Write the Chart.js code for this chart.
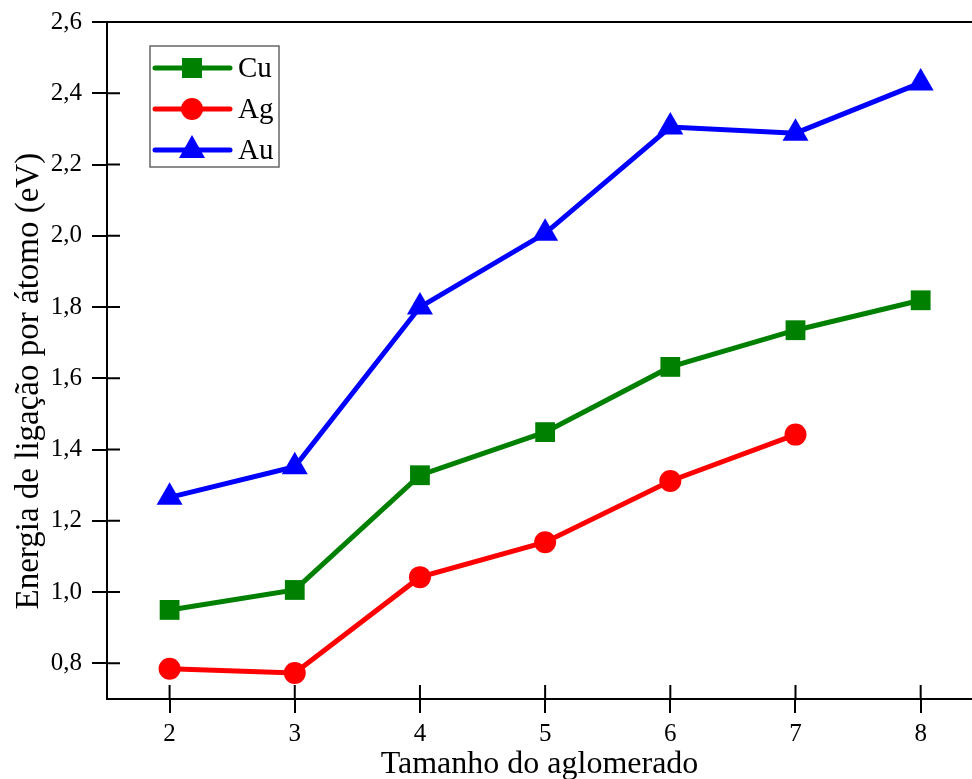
<!DOCTYPE html>
<html>
<head>
<meta charset="utf-8">
<script src="https://cdn.jsdelivr.net/npm/chart.js@4/dist/chart.umd.min.js"></script>
<style>
  html, body { margin: 0; padding: 0; background: #fff; overflow: hidden; }
</style>
</head>
<body>
<canvas id="chart" width="987" height="779"></canvas>
<script>
// Cluster sizes and binding energy per atom (eV)
const sizes = [2, 3, 4, 5, 6, 7, 8]
const cuValues = [0.950, 1.006, 1.328, 1.449, 1.632, 1.735, 1.819]
const agValues = [0.785, 0.773, 1.042, 1.140, 1.312, 1.442]
const auValues = [1.266, 1.352, 1.800, 2.007, 2.305, 2.288, 2.429]

const seriesNames = ['Cu', 'Ag', 'Au']
const yTicks = [0.8, 1.0, 1.2, 1.4, 1.6, 1.8, 2.0, 2.2, 2.4, 2.6]
const xTicks = [2, 3, 4, 5, 6, 7, 8]

Chart.defaults.font.family = "'Liberation Serif', 'DejaVu Serif', serif"
Chart.defaults.color = '#000'

let toPoints = function(values) {
  return values.map((v, i) => ({ x: sizes[i], y: v }))
}

// Top frame line and the inner half of the tick marks
let framePlugin = {
  id: 'frame',
  beforeDatasetsDraw(chart) {
    let ctx = chart.ctx
    let area = chart.chartArea
    ctx.save()
    ctx.strokeStyle = '#000'
    ctx.lineWidth = 2
    ctx.beginPath()
    ctx.moveTo(area.left, area.top)
    ctx.lineTo(area.right + 20, area.top)
    yTicks.forEach(v => {
      let y = chart.scales.y.getPixelForValue(v)
      ctx.moveTo(area.left, y)
      ctx.lineTo(area.left + 13, y)
    })
    xTicks.forEach(v => {
      let x = chart.scales.x.getPixelForValue(v)
      ctx.moveTo(x, area.bottom)
      ctx.lineTo(x, area.bottom - 14)
    })
    ctx.moveTo(area.right, area.bottom)
    ctx.lineTo(area.right + 20, area.bottom)
    ctx.stroke()
    ctx.restore()
  }
}

// Legend box with line + marker samples
let legendPlugin = {
  id: 'boxLegend',
  afterDraw(chart) {
    let ctx = chart.ctx
    ctx.save()
    ctx.strokeStyle = '#666'
    ctx.lineWidth = 1.5
    ctx.strokeRect(150, 46, 129, 121)
    let rows = [68, 109, 150]
    chart.data.datasets.forEach((ds, i) => {
      let y = rows[i]
      ctx.strokeStyle = ds.borderColor
      ctx.fillStyle = ds.borderColor
      ctx.lineWidth = 5
      ctx.lineCap = 'round'
      ctx.beginPath()
      ctx.moveTo(155, y)
      ctx.lineTo(230, y)
      ctx.stroke()
      let cx = 192
      ctx.beginPath()
      if (ds.pointStyle === 'rect') {
        ctx.rect(cx - 10, y - 10, 20, 20)
      } else if (ds.pointStyle === 'circle') {
        ctx.arc(cx, y, 11, 0, Math.PI * 2)
      } else {
        ctx.moveTo(cx, y - 15)
        ctx.lineTo(cx + 13, y + 8)
        ctx.lineTo(cx - 13, y + 8)
        ctx.closePath()
      }
      ctx.fill()
      ctx.fillStyle = '#000'
      ctx.font = "29px 'Liberation Serif'"
      ctx.textBaseline = 'middle'
      ctx.fillText(ds.label, 238, y + 1)
    })
    ctx.restore()
  }
}

let makeDataset = function(label, values, color, style, radius) {
  return {
    label: label,
    data: toPoints(values),
    borderColor: color,
    backgroundColor: color,
    borderWidth: 5,
    pointStyle: style,
    pointRadius: radius,
    pointBorderWidth: 0,
    tension: 0
  }
}

let config = {
  type: 'line',
  data: {
    datasets: [
      makeDataset(seriesNames[0], cuValues, '#008000', 'rect', 14),
      makeDataset(seriesNames[1], agValues, '#ff0000', 'circle', 11),
      makeDataset(seriesNames[2], auValues, '#0000ff', 'triangle', 15)
    ]
  },
  options: {
    responsive: false,
    animation: false,
    layout: { padding: { top: 22, right: 0, left: 0, bottom: 0 } },
    plugins: {
      legend: { display: false },
      tooltip: { enabled: false }
    },
    scales: {
      x: {
        type: 'linear',
        min: 1.5,
        max: 8.41,
        afterFit: scale => {
          scale.height = 80
          scale.paddingLeft = 0
          scale.paddingRight = 0
        },
        afterBuildTicks: scale => { scale.ticks = xTicks.map(v => ({ value: v })) },
        grid: { drawOnChartArea: false, tickLength: 14, color: '#000', lineWidth: 2 },
        border: { color: '#000', width: 2 },
        ticks: {
          font: { size: 25 },
          padding: 6,
          maxRotation: 0,
          callback: v => String(v)
        },
        title: {
          display: true,
          text: 'Tamanho do aglomerado',
          font: { size: 32 },
          padding: { top: 0, bottom: -5 }
        }
      },
      y: {
        min: 0.7,
        max: 2.6,
        afterFit: scale => {
          scale.width = 107
          scale.paddingTop = 0
          scale.paddingBottom = 0
        },
        afterBuildTicks: scale => { scale.ticks = yTicks.map(v => ({ value: v })) },
        grid: { drawOnChartArea: false, tickLength: 15, color: '#000', lineWidth: 2 },
        border: { color: '#000', width: 2 },
        ticks: {
          font: { size: 25 },
          padding: 10,
          callback: v => v.toFixed(1).replace('.', ',')
        },
        title: {
          display: true,
          text: 'Energia de ligação por átomo (eV)\u00A0\u00A0\u00A0\u00A0\u00A0',
          font: { size: 33 },
          padding: { top: 10, bottom: 0 }
        }
      }
    }
  },
  plugins: [framePlugin, legendPlugin]
}

new Chart('chart', config)
</script>
</body>
</html>
